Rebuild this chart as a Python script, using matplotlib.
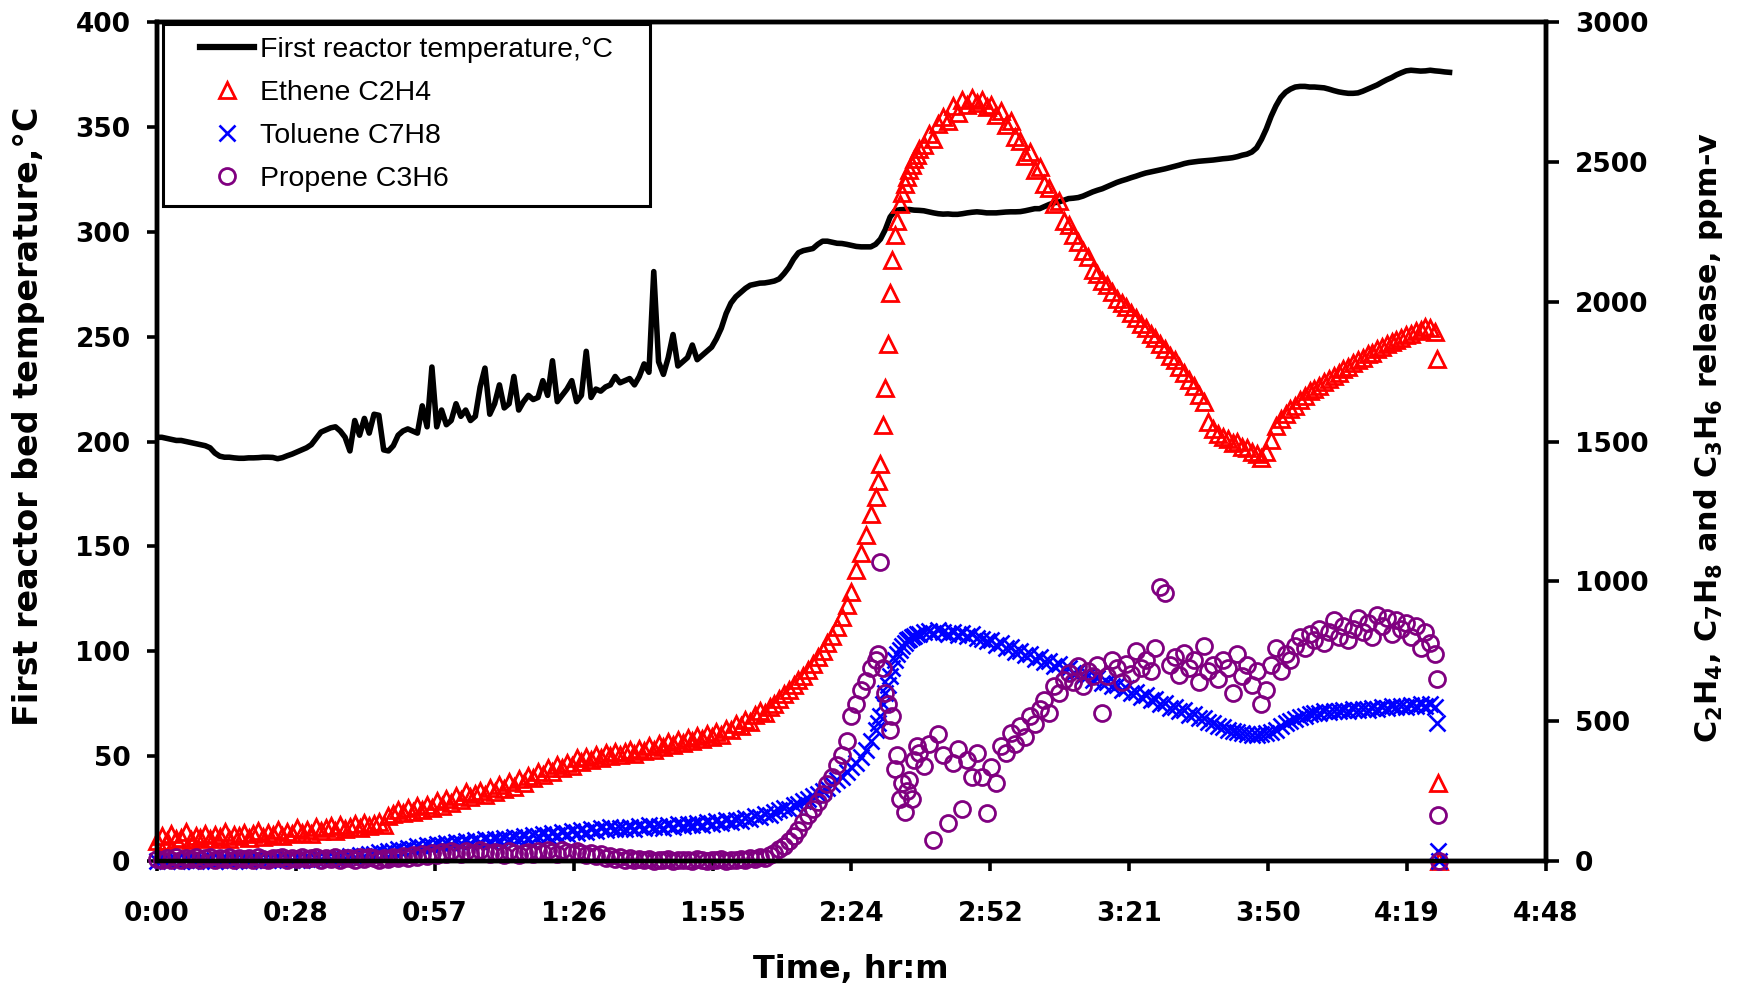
import numpy as np
import matplotlib
matplotlib.use("Agg")
import matplotlib.pyplot as plt
from matplotlib.lines import Line2D
from matplotlib.patches import Rectangle

# reactor bed temperature, logged every minute (deg C)
temp_minutes = np.arange(269)
bed_temp = [
    202, 202, 201.5, 201, 200.5, 200.5, 200, 199.5, 199, 198.5,
    198, 197, 194.5, 193, 192.5, 192.5, 192.2, 192, 192, 192.2,
    192.2, 192.3, 192.5, 192.5, 192.4, 191.8, 192.3, 193.2, 194, 195,
    196, 197, 198.5, 201.5, 204.5, 205.5, 206.5, 207, 205, 202,
    195.5, 210, 203, 211, 204, 213, 212.5, 196, 195.5, 198,
    203, 205, 206, 205, 204, 217, 207, 235.5, 207, 215,
    208, 210, 218, 212, 215, 210, 212, 226, 235, 213,
    218, 227, 216, 218, 231, 215, 219, 222, 220, 221,
    229, 222, 238.5, 219, 222, 225, 229, 219, 222, 243,
    221, 225, 224, 226, 227, 231, 228, 229, 230, 227,
    231, 237, 233, 281, 238, 232, 240, 251, 236, 238,
    240, 246, 239, 241, 243, 245, 249, 254, 261, 266,
    269, 271, 273, 274.5, 275, 275.5, 275.6, 276, 276.5, 277.5,
    280, 283, 287, 290, 291, 291.5, 292, 294, 295.5, 295.5,
    295, 294.5, 294.4, 294, 293.5, 293, 292.8, 292.8, 292.8, 294,
    296.5, 301, 307, 310, 310.5, 310.6, 310.6, 310.3, 310.2, 310,
    309.5, 309, 308.6, 308.4, 308.5, 308.3, 308.3, 308.6, 309, 309.3,
    309.5, 309.3, 309, 309, 309, 309.2, 309.4, 309.5, 309.5, 309.6,
    310, 310.5, 311, 311, 312, 313, 313.8, 314.2, 315, 315.8,
    316, 316.3, 317, 318, 319, 319.8, 320.5, 321.5, 322.5, 323.5,
    324.3, 325, 325.8, 326.5, 327.3, 328, 328.5, 329, 329.5, 330,
    330.6, 331.2, 331.8, 332.5, 333, 333.3, 333.6, 333.8, 334, 334.2,
    334.5, 334.8, 335, 335.3, 335.8, 336.5, 337, 338, 340, 344,
    349, 355, 360, 364, 366.5, 368, 369, 369.3, 369.3, 369,
    369, 368.8, 368.6, 368, 367.3, 366.7, 366.3, 366, 366, 366.2,
    367, 368, 369, 370, 371.3, 372.5, 373.5, 374.8, 375.8, 376.7,
    377, 376.8, 376.6, 376.7, 377, 376.7, 376.5, 376.2, 376,
]

# gas analyser readings (ppm-v), one per minute
gas_minutes = np.arange(266)
ethene = [
    72, 88, 70, 95, 78, 84, 102, 76, 90, 81,
    98, 79, 92, 86, 105, 80, 94, 88, 101, 83,
    96, 108, 87, 99, 92, 112, 90, 104, 97, 118,
    101, 110, 95, 122, 106, 117, 124, 108, 128, 115,
    121, 132, 118, 137, 126, 133, 141, 128, 160, 168,
    182, 171, 188, 176, 195, 184, 201, 190, 214, 198,
    222, 208, 231, 217, 246, 228, 239, 252, 236, 261,
    248, 270, 259, 284, 266, 292, 278, 305, 296, 318,
    308, 332, 319, 345, 334, 352, 341, 368, 355, 372,
    362, 380, 369, 386, 374, 391, 379, 388, 396, 384,
    402, 393, 411, 398, 420, 407, 426, 414, 432, 421,
    440, 429, 447, 436, 455, 444, 462, 451, 472, 468,
    489, 482, 505, 498, 521, 536, 530, 552, 561, 578,
    596, 611, 630, 648, 662, 684, 705, 728, 752, 779,
    805, 838, 872, 915, 962, 1040, 1100, 1165, 1240,
    1300, 1420, 1690, 2030, 2240, 2350, 2420, 2470, 2510, 2545,
    2560, 2600, 2580, 2635, 2660, 2645, 2700, 2675, 2720, 2705, 2730,
    2710, 2722, 2695, 2705, 2668, 2680, 2630, 2645, 2590, 2575,
    2520, 2535, 2470, 2480, 2420, 2405, 2350, 2360, 2290, 2275,
    2240, 2215, 2180, 2160, 2115, 2100, 2075, 2060, 2035, 2010,
    1995, 1980, 1958, 1940, 1920, 1905, 1885, 1870, 1848, 1830,
    1805, 1790, 1765, 1745, 1720, 1700, 1665, 1640, 1570, 1545,
    1528, 1515, 1508, 1495, 1500, 1482, 1478, 1462, 1455, 1440,
    1462, 1505, 1555, 1580, 1598, 1615, 1628, 1650, 1662, 1680,
    1688, 1700, 1712, 1722, 1735, 1745, 1760, 1768, 1780, 1790,
    1800, 1812, 1818, 1830, 1838, 1848, 1855, 1862, 1870, 1880,
    1886, 1895, 1900, 1908, 1905, 1892,
]
toluene = [
    0, 3, 0, 5, 2, 0, 4, 1, 0, 3,
    2, 5, 0, 3, 6, 1, 4, 2, 5, 0,
    4, 7, 2, 5, 3, 8, 4, 6, 2, 7,
    5, 9, 4, 8, 6, 11, 7, 10, 14, 12,
    18, 15, 22, 19, 26, 24, 31, 28, 37, 34,
    42, 38, 47, 44, 52, 49, 58, 54, 61, 57,
    64, 59, 68, 63, 72, 66, 74, 69, 77, 71,
    80, 74, 83, 78, 86, 81, 90, 84, 93, 88,
    95, 89, 99, 93, 104, 97, 108, 101, 112, 105,
    114, 107, 117, 110, 120, 113, 119, 114, 122, 116,
    124, 118, 127, 121, 125, 119, 128, 123, 131, 125,
    134, 127, 137, 130, 139, 133, 142, 136, 145, 139,
    148, 143, 153, 150, 160, 156, 167, 164, 175, 182,
    190, 186, 199, 205, 214, 220, 232, 240, 251, 262,
    274, 288, 302, 318, 335, 352, 372, 398, 430,
    470, 520, 600, 660, 720, 755, 780, 795, 805, 812,
    818, 822, 815, 825, 819, 812, 820, 808, 815, 804, 810,
    798, 795, 785, 790, 772, 778, 760, 765, 748, 752,
    735, 740, 722, 728, 710, 715, 698, 703, 685, 690,
    672, 678, 660, 664, 648, 655, 636, 640, 625, 630,
    612, 618, 600, 605, 588, 592, 575, 580, 562, 566,
    548, 552, 535, 540, 522, 526, 510, 512, 498, 494,
    482, 478, 470, 466, 462, 458, 455, 452, 450, 454,
    458, 462, 470, 482, 492, 500, 508, 515, 520, 525,
    530, 528, 535, 532, 538, 535, 540, 537, 542, 539,
    545, 541, 548, 544, 550, 547, 553, 549, 555, 551,
    558, 553, 560, 556, 562, 550,
]
propene = [
    8, 2, 12, 5, 15, 3, 10, 6, 14, 4,
    9, 13, 3, 11, 6, 15, 2, 10, 7, 12,
    5, 14, 8, 3, 12, 9, 16, 4, 11, 7,
    13, 6, 10, 15, 3, 12, 8, 14, 5, 11,
    9, 4, 13, 7, 16, 10, 5, 12, 8, 14,
    11, 17, 9, 21, 14, 25, 18, 28, 22, 31,
    26, 34, 29, 24, 36, 30, 27, 38, 32, 25,
    33, 28, 22, 35, 30, 20, 27, 33, 24, 36,
    29, 38, 31, 26, 40, 33, 28, 36, 30, 22,
    27, 18, 24, 12, 19, 8, 14, 5, 10, 3,
    6, 2, 8, 1, 5, 3, 7, 0, 4, 2,
    5, 1, 6, 3, 0, 4, 2, 6, 1, 5,
    3, 7, 2, 9, 6, 14, 10, 22, 30, 42,
    55, 72, 90, 112, 140, 165, 185, 210, 240, 275,
    300, 345, 380, 430, 520, 560, 610, 645, 690,
    720, 1070, 600, 470, 330, 220, 175, 290, 360, 385,
    340, 420, 75, 455, 380, 135, 350, 400, 186, 360, 300,
    386, 300, 172, 337, 278, 410, 386, 458, 420, 482,
    445, 520, 490, 542, 576, 529, 625, 600, 648, 673,
    640, 697, 625, 680, 661, 700, 529, 660, 720, 690,
    640, 705, 670, 750, 690, 720, 680, 760, 980, 960,
    700, 730, 665, 745, 690, 720, 640, 770, 680, 700,
    650, 720, 690, 600, 740, 660, 700, 630, 680, 560,
    610, 700, 760, 680, 740, 720, 770, 800, 760, 810,
    790, 830, 780, 820, 860, 800, 840, 790, 830, 870,
    820, 850, 800, 880, 840, 870, 810, 860, 830, 850,
    800, 840, 760, 820, 780, 740,
]

# extra half-minute readings during the fast rise
burst_minutes = [149.5, 150.5, 151.5, 152.5, 153.5, 154.5, 155.5, 156.5, 157.5]
burst_ethene = [1360, 1560, 1850, 2150, 2290, 2390, 2445, 2490, 2525]
burst_toluene = [495, 560, 630, 690, 740, 770, 790, 800, 810]
burst_propene = [740, 690, 560, 520, 380, 280, 250, 220, 410]

# last readings while the analyser is purged
tail_minutes = [265.5, 265.7, 265.9]
tail_ethene = [1794, 278, 0]
tail_toluene = [492, 36, 0]
tail_propene = [651, 163, 0]

xtick_minutes = [0, 28.8, 57.6, 86.4, 115.2, 144, 172.8, 201.6, 230.4, 259.2, 288]
xtick_labels = ["0:00", "0:28", "0:57", "1:26", "1:55", "2:24", "2:52",
                "3:21", "3:50", "4:19", "4:48"]

t_gas = np.concatenate([gas_minutes, burst_minutes, tail_minutes])
c2h4 = np.concatenate([ethene, burst_ethene, tail_ethene])
c7h8 = np.concatenate([toluene, burst_toluene, tail_toluene])
c3h6 = np.concatenate([propene, burst_propene, tail_propene])

plt.rcParams['font.family'] = ['DejaVu Sans']
plt.rcParams['mathtext.fontset'] = 'dejavusans'
plt.rcParams['mathtext.default'] = 'bf'

W, H = 1740, 986
fig = plt.figure(figsize=(W / 100, H / 100), dpi=100)
x0, x1, y0, y1 = 157, 1546, 22, 861
ax = fig.add_axes([x0 / W, 1 - y1 / H, (x1 - x0) / W, (y1 - y0) / H])
ax2 = ax.twinx()

ax.plot(temp_minutes, bed_temp, color='black', lw=4, solid_joinstyle='round')

tri = dict(ls='none', marker='^', ms=11, mfc='none', mec='red', mew=2.0)
crs = dict(ls='none', marker='x', ms=11, mec='blue', mew=1.9)
cir = dict(ls='none', marker='o', ms=11.5, mfc='none', mec='purple', mew=2.0)

ax2.plot(t_gas, c2h4, clip_on=False, **tri)
ax2.plot(t_gas, c7h8, clip_on=False, **crs)
ax2.plot(t_gas, c3h6, clip_on=False, **cir)

ax.set_xlim(0, 288)
ax.set_ylim(0, 400)
ax2.set_ylim(0, 3000)
ax.set_xticks(xtick_minutes)
ax.set_xticklabels(xtick_labels)
ax.set_yticks(np.arange(0, 401, 50))
ax2.set_yticks(np.arange(0, 3001, 500))

for a in (ax, ax2):
    for s in a.spines.values():
        s.set_linewidth(3.2)
    a.tick_params(direction='out', length=7, width=2.6, labelsize=19, pad=12)
    for lab in a.get_xticklabels() + a.get_yticklabels():
        lab.set_fontweight('bold')
ax.tick_params(axis='x', pad=22)
ax2.tick_params(axis='y', length=9)

fig.text(29 / W, 1 - 416 / H, 'First reactor bed temperature,°C', rotation=90,
         ha='center', va='center', fontsize=24, fontweight='bold')
fig.text(1709 / W, 1 - 438 / H,
         r'C$_2$H$_4$, C$_7$H$_8$ and C$_3$H$_6$ release, ppm-v', rotation=90,
         ha='center', va='center', fontsize=21.8, fontweight='bold')
fig.text(851 / W, 1 - 978 / H, 'Time, hr:m', ha='center', va='baseline',
         fontsize=23, fontweight='bold')

handles = [
    Line2D([], [], color='black', lw=4.5),
    Line2D([], [], **tri),
    Line2D([], [], **crs),
    Line2D([], [], **cir),
]
labels = ['First reactor temperature,°C', 'Ethene C2H4', 'Toluene C7H8',
          'Propene C3H6']
fig.legend(handles, labels, loc='upper left', bbox_to_anchor=(200 / W, 1 - 37 / H),
           frameon=False, borderpad=0, borderaxespad=0, handlelength=1.9,
           handletextpad=0.2, labelspacing=0.6,
           prop={'family': 'Liberation Sans', 'size': 20.5})
fig.add_artist(Rectangle((163 / W, 1 - 206 / H), (650 - 163) / W, (206 - 24) / H,
                         transform=fig.transFigure, fill=False, ec='black',
                         lw=2.2, zorder=5))

fig.savefig('out.png', dpi=100)
